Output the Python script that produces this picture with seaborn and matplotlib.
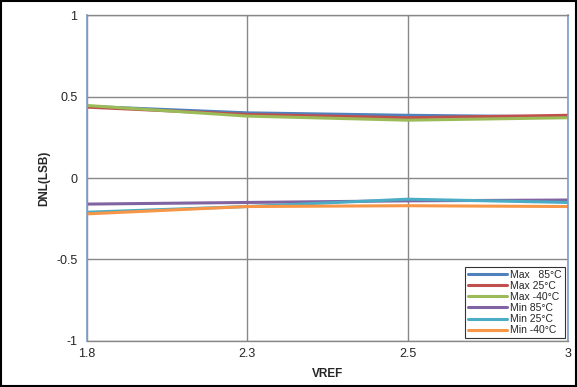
import matplotlib
matplotlib.use("Agg")
import matplotlib.pyplot as plt
import seaborn as sns
import pandas as pd

# VREF categories (equally spaced on the chart)
vref = ["1.8", "2.3", "2.5", "3"]

max_85 = [0.44, 0.40, 0.385, 0.375]
max_25 = [0.435, 0.39, 0.37, 0.385]
max_m40 = [0.445, 0.38, 0.355, 0.37]
min_85 = [-0.16, -0.15, -0.14, -0.135]
min_25 = [-0.21, -0.175, -0.13, -0.15]
min_m40 = [-0.22, -0.175, -0.17, -0.175]

series = {
    "Max   85°C": max_85,
    "Max 25°C": max_25,
    "Max -40°C": max_m40,
    "Min 85°C": min_85,
    "Min 25°C": min_25,
    "Min -40°C": min_m40,
}
colors = ["#4F81BD", "#C0504D", "#9BBB59", "#8064A2", "#4BACC6", "#F79646"]

rows = []
for name, vals in series.items():
    for i, v in enumerate(vals):
        rows.append({"idx": i, "DNL": v, "serie": name})
df = pd.DataFrame(rows)

sns.set_style("white")
plt.rcParams["font.family"] = ["Liberation Sans", "DejaVu Sans"]

fig = plt.figure(figsize=(5.77, 3.87), dpi=100)
ax = fig.add_axes([0.151, 0.119, 0.833, 0.842])

sns.lineplot(data=df, x="idx", y="DNL", hue="serie", palette=colors,
             linewidth=2.2, ax=ax, legend=True)

ax.set_xlim(0, len(vref) - 1)
ax.set_ylim(-1, 1)
ax.set_xticks(range(len(vref)))
ax.set_xticklabels(vref)
ax.set_yticks([-1, -0.5, 0, 0.5, 1])
ax.set_yticklabels(["-1", "-0.5", "0", "0.5", "1"])
ax.tick_params(axis="y", labelsize=9, length=4, color="#888888", pad=3)
ax.tick_params(axis="x", labelsize=9, length=0, pad=5)
ax.grid(True, color="#888888", linewidth=1)

for s in ["left", "right"]:
    ax.spines[s].set_color("#7E9CC8")
    ax.spines[s].set_linewidth(1.2)
for s in ["top", "bottom"]:
    ax.spines[s].set_color("#888888")
    ax.spines[s].set_linewidth(1)

ax.set_xlabel("VREF", fontsize=8.5, fontweight="bold", labelpad=6)
ax.set_ylabel("DNL(LSB)", fontsize=8.5, fontweight="bold")
ax.yaxis.set_label_coords(-0.077, 0.5)

leg = ax.legend(loc="lower right", fontsize=7.5, frameon=True, fancybox=False,
                edgecolor="black", handlelength=3.8, handletextpad=0.3,
                borderpad=0.25, labelspacing=0.1, borderaxespad=0.3)
leg.get_frame().set_linewidth(0.8)

# outer black border
fig.patches.append(plt.Rectangle((0.002, 0.003), 0.996, 0.994, transform=fig.transFigure,
                                 fill=False, edgecolor="black", linewidth=1.5))

fig.savefig("out.png", dpi=100)
